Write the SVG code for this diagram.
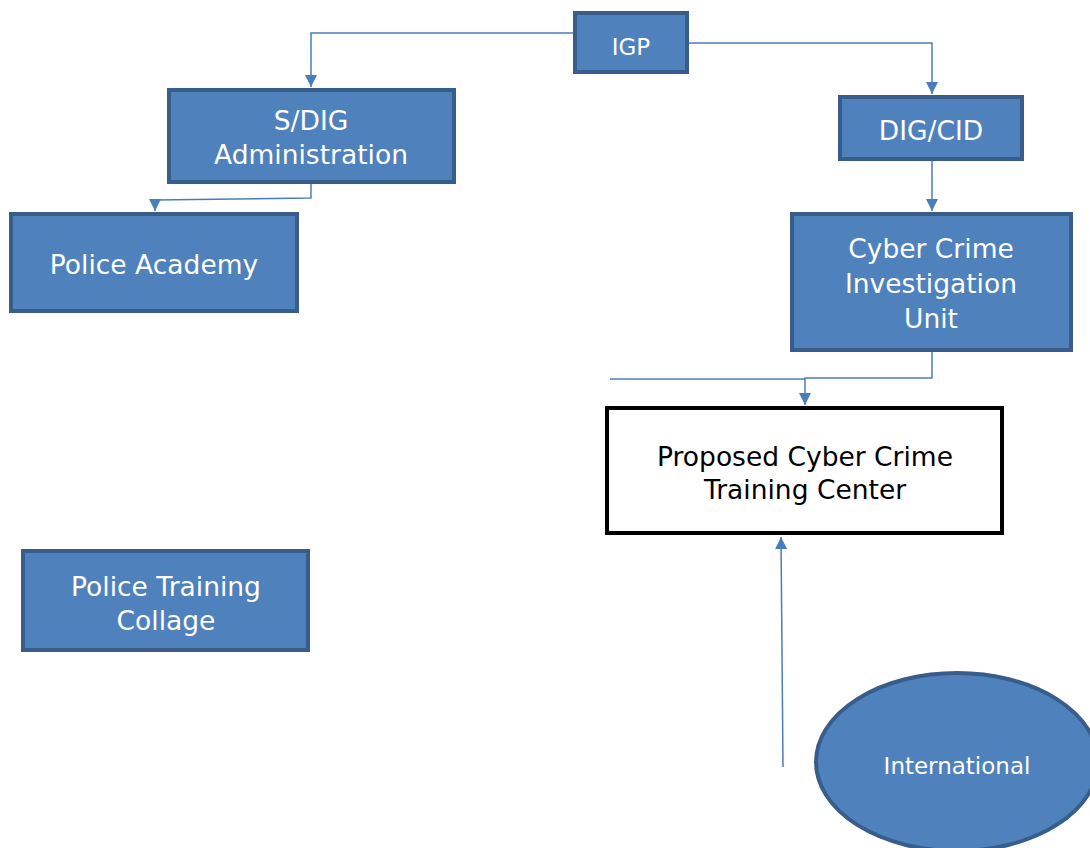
<svg xmlns="http://www.w3.org/2000/svg" width="1090" height="848" viewBox="0 0 1090 848">
  <style>
    .box { fill: #4f81bd; stroke: #385d8a; stroke-width: 4; }
    .plain { fill: #ffffff; stroke: #000000; stroke-width: 4; }
    .lbl { font-family: "DejaVu Sans", Verdana, sans-serif; fill: #ffffff; text-anchor: middle; font-size: 26.5px; }
    .small { font-size: 23px; }
    .dark { fill: #000000; }
    .conn { fill: none; stroke: #4a7ebb; stroke-width: 1.5; }
  </style>
  <defs>
    <marker id="arrow" viewBox="0 0 10 10" refX="10" refY="5" markerWidth="12" markerHeight="12" markerUnits="userSpaceOnUse" orient="auto">
      <path d="M0,0 L10,5 L0,10 z" fill="#4a7ebb"/>
    </marker>
  </defs>

  <rect width="1090" height="848" fill="#ffffff"/>

  <g id="connectors">
    <polyline class="conn" points="574,33 311,33 311,87" marker-end="url(#arrow)"/>
    <polyline class="conn" points="688,43 932,43 932,94" marker-end="url(#arrow)"/>
    <polyline class="conn" points="311,184 311,198 155,200 155,211" marker-end="url(#arrow)"/>
    <polyline class="conn" points="932,161 932,211" marker-end="url(#arrow)"/>
    <polyline class="conn" points="932,352 932,378 805,378 805,405" marker-end="url(#arrow)"/>
    <line class="conn" x1="610" y1="379" x2="805" y2="379"/>
    <line class="conn" x1="783" y1="767" x2="781" y2="537" marker-end="url(#arrow)"/>
  </g>

  <g id="igp">
    <rect class="box" x="575" y="13" width="112" height="59"/>
    <text class="lbl small" x="631" y="55">IGP</text>
  </g>

  <g id="sdig-admin">
    <rect class="box" x="169" y="90" width="285" height="92"/>
    <text class="lbl" x="311" y="130">S/DIG</text>
    <text class="lbl" x="311" y="164">Administration</text>
  </g>

  <g id="dig-cid">
    <rect class="box" x="840" y="97" width="182" height="62"/>
    <text class="lbl" x="931" y="140">DIG/CID</text>
  </g>

  <g id="cciu">
    <rect class="box" x="792" y="214" width="279" height="136"/>
    <text class="lbl" x="931" y="258">Cyber Crime</text>
    <text class="lbl" x="931" y="293">Investigation</text>
    <text class="lbl" x="931" y="328">Unit</text>
  </g>

  <g id="police-academy">
    <rect class="box" x="11" y="214" width="286" height="97"/>
    <text class="lbl" x="154" y="274">Police Academy</text>
  </g>

  <g id="police-training-collage">
    <rect class="box" x="23" y="551" width="285" height="99"/>
    <text class="lbl" x="166" y="596">Police Training</text>
    <text class="lbl" x="166" y="630">Collage</text>
  </g>

  <g id="proposed-center">
    <rect class="plain" x="607" y="408" width="395" height="125"/>
    <text class="lbl dark" x="805" y="466">Proposed Cyber Crime</text>
    <text class="lbl dark" x="805" y="499">Training Center</text>
  </g>

  <g id="international">
    <ellipse class="box" cx="957" cy="762" rx="141" ry="89"/>
    <text class="lbl small" x="957" y="774">International</text>
  </g>
</svg>
